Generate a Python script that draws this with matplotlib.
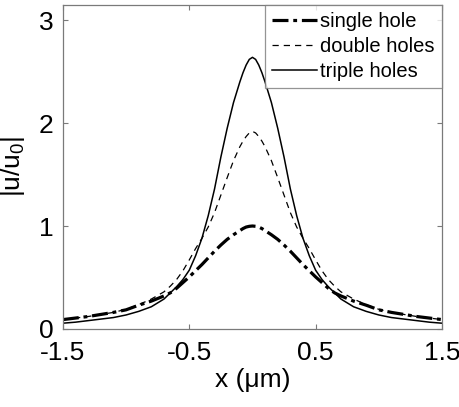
import numpy as np
import matplotlib
matplotlib.use("Agg")
import matplotlib.pyplot as plt

plt.rcParams['font.family'] = ['Liberation Sans', 'DejaVu Sans']
plt.rcParams['mathtext.default'] = 'regular'

# half-profiles sampled on x >= 0 (curves are symmetric about x = 0)
x_half = [0.0, 0.025, 0.05, 0.075, 0.1, 0.15, 0.2, 0.25, 0.3, 0.35, 0.4, 0.45,
          0.5, 0.55, 0.6, 0.65, 0.7, 0.8, 0.9, 1.0, 1.1, 1.2, 1.3, 1.4, 1.5]
single_hole = [1.0, 0.997, 0.99, 0.975, 0.955, 0.915, 0.87, 0.815, 0.755, 0.69,
               0.625, 0.565, 0.505, 0.45, 0.395, 0.35, 0.32, 0.27, 0.23, 0.185,
               0.16, 0.14, 0.12, 0.105, 0.09]
double_holes = [1.92, 1.905, 1.87, 1.825, 1.77, 1.635, 1.47, 1.30, 1.13, 0.99,
                0.88, 0.78, 0.67, 0.565, 0.48, 0.415, 0.36, 0.29, 0.235, 0.19,
                0.16, 0.14, 0.12, 0.105, 0.09]
triple_holes = [2.64, 2.62, 2.565, 2.49, 2.40, 2.20, 1.95, 1.67, 1.36, 1.10,
                0.88, 0.71, 0.57, 0.48, 0.41, 0.35, 0.29, 0.215, 0.17, 0.135,
                0.11, 0.095, 0.08, 0.065, 0.055]


def mirror(xs, ys):
    xs = np.asarray(xs)
    ys = np.asarray(ys)
    return np.concatenate([-xs[:0:-1], xs]), np.concatenate([ys[:0:-1], ys])


fig = plt.figure(figsize=(4.59, 4.07), dpi=100)
ax = fig.add_axes([0.137, 0.192, 0.826, 0.796])

x, y = mirror(x_half, single_hole)
ax.plot(x, y, color='black', lw=2.3, linestyle=(0, (5, 1.5, 1.2, 1.5)),
        label='single hole')
x, y = mirror(x_half, double_holes)
ax.plot(x, y, color='black', lw=0.9, linestyle=(0, (5, 4)),
        label='double holes')
x, y = mirror(x_half, triple_holes)
ax.plot(x, y, color='black', lw=1.1, label='triple holes')

ax.set_xlim(-1.5, 1.5)
ax.set_ylim(0, 3.15)
ax.set_xticks([-1.5, -0.5, 0.5, 1.5])
ax.set_xticklabels(['-1.5', '-0.5', '0.5', '1.5'])
ax.set_yticks([0, 1, 2, 3])

for s in ax.spines.values():
    s.set_color('#7a7a7a')
    s.set_linewidth(0.9)
ax.tick_params(direction='in', length=3.5, width=0.8, color='#7a7a7a',
               labelsize=19, top=True, right=True, pad=7)
ax.tick_params(axis='x', pad=9)

ax.set_xlabel('x (μm)', fontsize=19, labelpad=2)
ax.set_ylabel('|u/u$_0$|', fontsize=19, labelpad=8)

leg = ax.legend(loc='upper right', fontsize=14.5, frameon=True, fancybox=False,
                borderaxespad=0, handlelength=2.25, handletextpad=0.15,
                borderpad=0.35, labelspacing=0.3)
leg.get_frame().set_edgecolor('#7a7a7a')
leg.get_frame().set_linewidth(0.9)

fig.savefig('out.png', dpi=100)
